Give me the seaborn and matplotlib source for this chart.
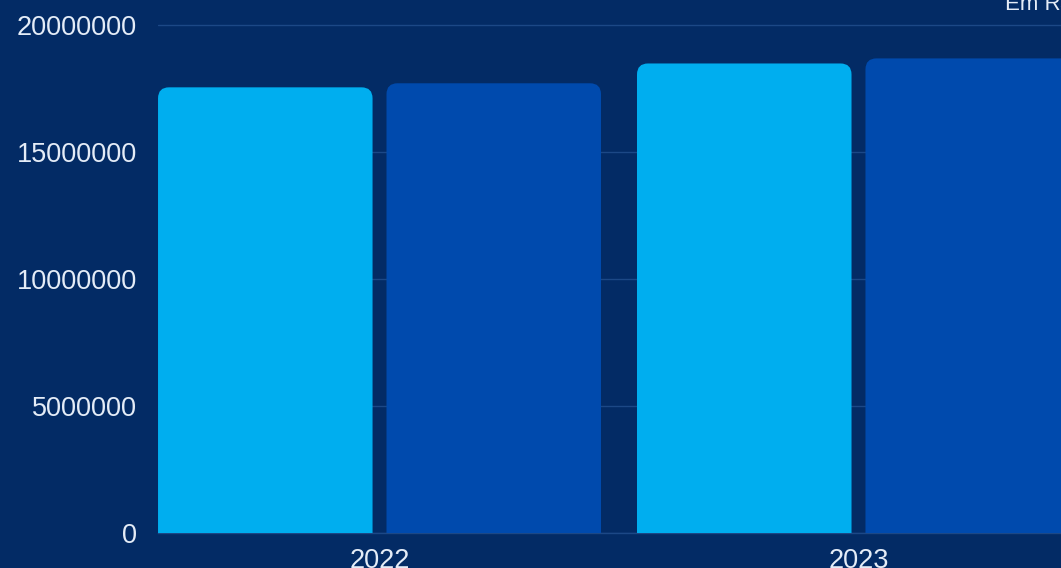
import matplotlib
matplotlib.use("Agg")
import matplotlib.pyplot as plt
from matplotlib.patches import FancyBboxPatch
import seaborn as sns
import pandas as pd

# ---- data ----
years = ["2022", "2022", "2023", "2023"]
series = ["A", "B", "A", "B"]
values = [17560000, 17720000, 18500000, 18700000]
y_ticks = [0, 5000000, 10000000, 15000000, 20000000]
y_tick_labels = ["0", "5000000", "10000000", "15000000", "20000000"]
corner_text = "Em R$"

BG = "#032b65"
LIGHT = "#00aeef"
DARK = "#004aad"
GRID = "#1c4886"
TXT = "#e4ecf7"

sns.set_theme(style="dark")
plt.rcParams["font.family"] = ["Liberation Sans", "DejaVu Sans"]

df = pd.DataFrame({"year": years, "series": series, "value": values})

fig = plt.figure(figsize=(10.61, 5.68), dpi=100, facecolor=BG)
ax = fig.add_axes([158 / 1061, 35 / 568, 1 - 158 / 1061, 533 / 568])
ax.set_facecolor(BG)

sns.barplot(data=df, x="year", y="value", hue="series",
            palette=[LIGHT, DARK], width=0.954, gap=0.061,
            saturation=1, errorbar=None, legend=False, ax=ax, zorder=3)

ax.set_xlim(-0.4625, 1.4228)
ax.set_ylim(0, 20000000 * 533 / 507.6)
ax.set_yticks(y_ticks)
ax.set_yticklabels(y_tick_labels)
ax.set_xlabel("")
ax.set_ylabel("")
ax.grid(axis="y", color=GRID, linewidth=1.0, zorder=0)
ax.grid(axis="x", visible=False)
for s in ["top", "right", "left"]:
    ax.spines[s].set_visible(False)
ax.spines["bottom"].set_visible(True)
ax.spines["bottom"].set_color(GRID)
ax.spines["bottom"].set_linewidth(1.0)
ax.tick_params(axis="y", length=0, pad=15, labelsize=19.5, labelcolor=TXT)
ax.tick_params(axis="x", length=0, pad=11, labelsize=19.5, labelcolor=TXT)

# round top corners of the bars
fig.canvas.draw()
radius_px = 11
inv = ax.transData.inverted()
p0 = inv.transform((0, 0))
p1 = inv.transform((radius_px, radius_px))
rx = p1[0] - p0[0]
ry = p1[1] - p0[1]
for bar in list(ax.patches):
    x, y = bar.get_x(), bar.get_y()
    w, h = bar.get_width(), bar.get_height()
    fc = bar.get_facecolor()
    bar.set_visible(False)
    rp = FancyBboxPatch((x, y - ry), w, h + ry,
                        boxstyle=f"round,pad=0,rounding_size={rx}",
                        mutation_aspect=ry / rx,
                        facecolor=fc, edgecolor="none", zorder=3)
    ax.add_patch(rp)

fig.text(1005 / 1061, 1 - 10 / 568, corner_text, color=TXT, fontsize=16,
         ha="left", va="baseline")

fig.savefig("out.png", dpi=100, facecolor=BG)
